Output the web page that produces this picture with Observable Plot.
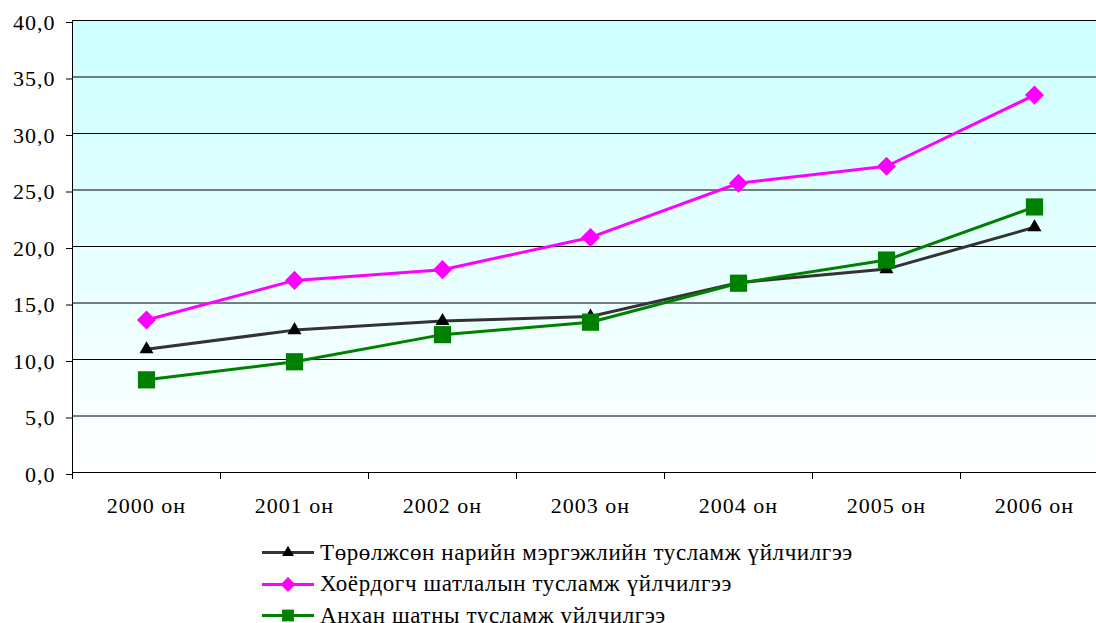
<!DOCTYPE html>
<html><head><meta charset="utf-8">
<script src="https://cdn.jsdelivr.net/npm/d3@7"></script>
<script src="https://cdn.jsdelivr.net/npm/@observablehq/plot@0.6"></script>
<style>
body{margin:0;background:#fff;overflow:hidden;}
#legend{font-family:"Liberation Serif","Times New Roman",serif;font-size:23px;letter-spacing:0.6px;margin-left:260px;margin-top:3px;color:#000;}
.row{display:flex;align-items:center;height:31.5px;white-space:nowrap;}
.row svg{margin-right:4px;flex:none;}
</style></head><body>
<div id="chart"></div><div id="legend"></div>
<script>
const years = ["2000 он", "2001 он", "2002 он", "2003 он", "2004 он", "2005 он", "2006 он"];
const seriesNames = [
  "Төрөлжсөн нарийн мэргэжлийн тусламж үйлчилгээ",
  "Хоёрдогч шатлалын тусламж үйлчилгээ",
  "Анхан шатны тусламж үйлчилгээ"
];
const specialized = [10.9, 12.6, 13.4, 13.8, 16.8, 18.0, 21.7];
const secondary   = [13.5, 17.0, 17.95, 20.8, 25.6, 27.1, 33.4];
const primary     = [8.2, 9.8, 12.2, 13.3, 16.75, 18.8, 23.5];
const yTicks = [0, 5, 10, 15, 20, 25, 30, 35, 40];
const lineColors = ["#333333", "#ff00ff", "#008000"];
const markerColors = ["#000000", "#ff00ff", "#008000"];
const symbols = ["triangle", "diamond2", "square"];
const markerR = [5.2, 8.6, 9.7];

const seriesValues = [specialized, secondary, primary];
const idx = years.map((_, i) => i);
const xDomain = [-0.5, years.length - 0.5];
const boundaries = d3.range(xDomain[0], xDomain[1] + 0.01, 1);
const fmt = d => d.toFixed(1).replace(".", ",");

const rows = seriesValues.map((vals, s) => vals.map((v, i) => ({i, value: v, s})));

const defs = () => {
  const d = d3.create("svg:defs");
  const g = d.append("linearGradient").attr("id", "bg").attr("x1", 0).attr("y1", 0).attr("x2", 0).attr("y2", 1);
  g.append("stop").attr("offset", "0%").attr("stop-color", "#ccffff");
  g.append("stop").attr("offset", "100%").attr("stop-color", "#ffffff");
  return d.node();
};

const marks = [
  defs,
  Plot.frame({fill: "url(#bg)", stroke: "none"}),
  Plot.gridY({ticks: yTicks, stroke: "#000", strokeOpacity: 1, strokeWidth: 1}),
  Plot.frame({stroke: "#000", strokeWidth: 1, fill: "none", anchor: "left"}),
  Plot.ruleY([0], {stroke: "#000"}),
  Plot.axisY({ticks: yTicks, tickSize: 6, tickPadding: 11, tickFormat: fmt, dy: 2, label: null}),
  Plot.axisX({ticks: boundaries, tickSize: 7, tickFormat: () => "", label: null}),
  Plot.axisX({ticks: idx, tickSize: 0, tickPadding: 25, tickFormat: i => years[i], label: null})
];
rows.forEach((data, s) => {
  marks.push(Plot.line(data, {x: "i", y: "value", stroke: lineColors[s], strokeWidth: 3}));
  marks.push(Plot.dot(data, {x: "i", y: "value", symbol: symbols[s], r: markerR[s], fill: markerColors[s], stroke: "none"}));
});

const chart = Plot.plot({
  width: 1096,
  height: 534,
  marginTop: 20,
  marginLeft: 72,
  marginBottom: 62,
  marginRight: 0,
  x: {domain: xDomain, range: [72, 1108], label: null},
  y: {domain: [0, 40], label: null},
  style: {fontFamily: '"Liberation Serif","Times New Roman",serif', fontSize: "22px", letterSpacing: "1px", color: "#000", background: "transparent"},
  marks
});
document.getElementById("chart").appendChild(chart);

const legendSymbols = [d3.symbolTriangle, d3.symbolDiamond2, d3.symbolSquare];
const legendSizes = [60, 140, 140];
const legend = d3.select("#legend");
seriesNames.forEach((name, s) => {
  const row = legend.append("div").attr("class", "row");
  const sv = row.append("svg").attr("width", 56).attr("height", 31);
  sv.append("line").attr("x1", 2).attr("x2", 54).attr("y1", 15.5).attr("y2", 15.5)
    .attr("stroke", lineColors[s]).attr("stroke-width", 3);
  sv.append("path").attr("transform", "translate(28,15.5)")
    .attr("d", d3.symbol(legendSymbols[s], legendSizes[s])()).attr("fill", markerColors[s]);
  row.append("span").text(name);
});
</script>
</body></html>
